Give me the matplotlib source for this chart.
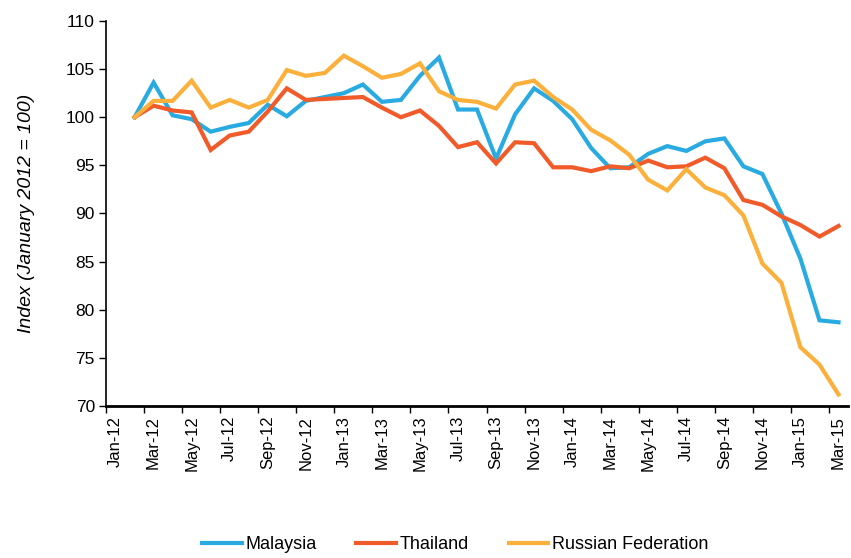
import matplotlib.pyplot as plt
import numpy as np

plt.rcParams['font.family'] = ['Liberation Sans', 'DejaVu Sans']

# Monthly categories, Jan-12 .. Mar-15 (the Jan-12 slot has no value in the source)
months = ["Jan-12", "Feb-12", "Mar-12", "Apr-12", "May-12", "Jun-12", "Jul-12", "Aug-12",
          "Sep-12", "Oct-12", "Nov-12", "Dec-12", "Jan-13", "Feb-13", "Mar-13", "Apr-13",
          "May-13", "Jun-13", "Jul-13", "Aug-13", "Sep-13", "Oct-13", "Nov-13", "Dec-13",
          "Jan-14", "Feb-14", "Mar-14", "Apr-14", "May-14", "Jun-14", "Jul-14", "Aug-14",
          "Sep-14", "Oct-14", "Nov-14", "Dec-14", "Jan-15", "Feb-15", "Mar-15"]

malaysia = [np.nan, 100.0, 103.6, 100.2, 99.8, 98.5, 99.0, 99.4, 101.3, 100.1, 101.7,
            102.1, 102.5, 103.4, 101.6, 101.8, 104.3, 106.2, 100.8, 100.8, 95.7, 100.3,
            103.0, 101.7, 99.8, 96.8, 94.7, 94.8, 96.2, 97.0, 96.5, 97.5, 97.8, 94.9,
            94.1, 90.0, 85.3, 78.9, 78.7]
thailand = [np.nan, 100.0, 101.2, 100.7, 100.5, 96.6, 98.1, 98.5, 100.6, 103.0, 101.8,
            101.9, 102.0, 102.1, 101.0, 100.0, 100.7, 99.1, 96.9, 97.4, 95.2, 97.4,
            97.3, 94.8, 94.8, 94.4, 94.9, 94.7, 95.5, 94.8, 94.9, 95.8, 94.7, 91.4,
            90.9, 89.7, 88.8, 87.6, 88.7]
russia = [np.nan, 100.0, 101.7, 101.7, 103.8, 101.0, 101.8, 101.0, 101.8, 104.9, 104.3,
          104.6, 106.4, 105.3, 104.1, 104.5, 105.6, 102.7, 101.8, 101.6, 100.9, 103.4,
          103.8, 102.1, 100.8, 98.7, 97.6, 96.1, 93.5, 92.4, 94.6, 92.7, 91.9, 89.8,
          84.8, 82.8, 76.1, 74.3, 71.2]

series = [("Malaysia", malaysia, "#29abe2"),
          ("Thailand", thailand, "#f15a29"),
          ("Russian Federation", russia, "#fbb03b")]

fig = plt.figure(figsize=(8.51, 5.58), dpi=100)
ax = fig.add_axes([0.1246, 0.2724, 0.8719, 0.69])

x = np.arange(len(months))
for name, vals, color in series:
    ax.plot(x, vals, color=color, lw=3.0, label=name, solid_joinstyle='miter')

ax.set_xlim(-0.5, len(months) - 0.5)
ax.set_ylim(70, 110)
ax.set_yticks(np.arange(70, 111, 5))
ax.tick_params(axis='y', labelsize=12.5, length=5, width=1, direction='out', pad=3)

ax.set_xticks(x[::2])
ax.set_xticklabels(months[::2], rotation=90, fontsize=12)
ax.set_xticks(np.arange(-0.5, len(months) - 1, 2), minor=True)
ax.tick_params(axis='x', which='major', length=0, pad=7)
ax.tick_params(axis='x', which='minor', length=5, width=1, direction='out')

ax.spines['top'].set_visible(False)
ax.spines['right'].set_visible(False)
ax.spines['left'].set_linewidth(1.2)
ax.spines['bottom'].set_linewidth(2.0)

ax.set_ylabel("Index (January 2012 = 100)", fontsize=14, style='italic', labelpad=22)

fig.legend(loc='lower center', bbox_to_anchor=(0.535, -0.02), ncol=3, frameon=False,
           fontsize=13, handlelength=2.2, handletextpad=0.2, columnspacing=2.2)

fig.savefig("out.png", dpi=100)
